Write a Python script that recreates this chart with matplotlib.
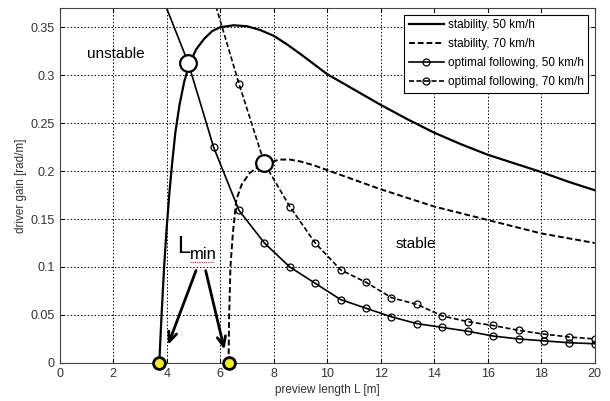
import numpy as np
import matplotlib.pyplot as plt

plt.rcParams['font.family'] = ['Liberation Sans', 'DejaVu Sans']

# stability boundaries
L_stab50 = [3.72, 3.80, 3.90, 4.00, 4.10, 4.20, 4.32, 4.47, 4.65, 4.85, 5.10, 5.40,
            5.70, 6.00, 6.50, 7.00, 7.50, 8.00, 8.50, 9.00, 10, 11, 12, 13, 14, 15,
            16, 17, 18, 19, 20]
g_stab50 = [0.0, 0.047, 0.100, 0.142, 0.178, 0.208, 0.240, 0.268, 0.293, 0.312,
            0.327, 0.338, 0.346, 0.350, 0.352, 0.351, 0.347, 0.341, 0.332, 0.322,
            0.301, 0.285, 0.269, 0.254, 0.240, 0.228, 0.217, 0.208, 0.199, 0.189,
            0.180]

L_stab70 = [6.31, 6.33, 6.38, 6.47, 6.60, 6.80, 7.10, 7.40, 7.75, 8.20, 8.60, 9.00,
            9.50, 10, 11, 12, 13, 14, 15, 16, 17, 18, 19, 20]
g_stab70 = [0.0, 0.047, 0.100, 0.135, 0.170, 0.186, 0.198, 0.204, 0.208, 0.212,
            0.212, 0.210, 0.206, 0.201, 0.191, 0.181, 0.172, 0.163, 0.156, 0.149,
            0.142, 0.135, 0.130, 0.125]

# optimal following gains
L_opt50 = [3.85, 4.80, 5.75, 6.70, 7.65, 8.60, 9.55, 10.50, 11.45, 12.40, 13.35,
           14.30, 15.25, 16.20, 17.15, 18.10, 19.05, 20.0]
g_opt50 = [0.380, 0.313, 0.225, 0.159, 0.125, 0.100, 0.083, 0.066, 0.057, 0.048,
           0.041, 0.037, 0.033, 0.028, 0.025, 0.023, 0.021, 0.020]

L_opt70 = [5.75, 6.70, 7.65, 8.60, 9.55, 10.50, 11.45, 12.40, 13.35, 14.30, 15.25,
           16.20, 17.15, 18.10, 19.05, 20.0]
g_opt70 = [0.380, 0.291, 0.208, 0.163, 0.125, 0.097, 0.084, 0.068, 0.061, 0.049,
           0.043, 0.039, 0.034, 0.030, 0.027, 0.025]

fig = plt.figure(figsize=(6.10, 4.01), dpi=100)
ax = fig.add_axes([0.098, 0.095, 0.877, 0.885])

ax.plot(L_stab50, g_stab50, '-', color='k', lw=1.6, label='stability, 50 km/h')
ax.plot(L_stab70, g_stab70, '--', color='k', lw=1.4, dashes=(3, 1.5),
        label='stability, 70 km/h')
ax.plot(L_opt50, g_opt50, '-', color='k', lw=1.2, marker='o', ms=5,
        mfc='none', mec='k', mew=0.9, label='optimal following, 50 km/h')
ax.plot(L_opt70, g_opt70, '--', color='k', lw=1.2, dashes=(3, 1.5), marker='o',
        ms=5, mfc='none', mec='k', mew=0.9, label='optimal following, 70 km/h')

# intersection circles
ax.plot([L_opt50[1], L_opt70[2]], [g_opt50[1], g_opt70[2]], 'o', ms=12,
        mfc='white', mec='k', mew=1.6, zorder=5)
# L_min points
ax.plot([L_stab50[0], L_stab70[0]], [g_stab50[0], g_stab70[0]], 'o', ms=8.5,
        mfc='#f5f000', mec='k', mew=2, zorder=6, clip_on=False)

ax.text(4.38, 0.115, 'L', fontsize=17, ha='left', va='baseline')
ax.text(4.86, 0.108, 'min', fontsize=12, ha='left', va='baseline')
ax.plot([4.88, 5.74], [0.1055, 0.1055], color='red', lw=0.8, ls=(0, (1, 1)))
ax.annotate('', xy=(4.01, 0.016), xytext=(5.13, 0.099),
            arrowprops=dict(arrowstyle='->,head_length=0.7,head_width=0.3', lw=2, color='k'))
ax.annotate('', xy=(6.18, 0.011), xytext=(5.43, 0.099),
            arrowprops=dict(arrowstyle='->,head_length=0.7,head_width=0.3', lw=2, color='k'))

ax.text(2.1, 0.322, 'unstable', fontsize=11, ha='center', va='center')
ax.text(13.3, 0.124, 'stable', fontsize=11, ha='center', va='center')

ax.set_xlim(0, 20)
ax.set_ylim(0, 0.37)
ax.set_xticks(np.arange(0, 21, 2))
ax.set_yticks([0, 0.05, 0.1, 0.15, 0.2, 0.25, 0.3, 0.35])
ax.set_yticklabels(['0', '0.05', '0.1', '0.15', '0.2', '0.25', '0.3', '0.35'])
ax.tick_params(direction='in', top=True, right=True, labelsize=9,
               labelcolor='#333333', length=3)
ax.grid(True, color='k', ls=(0, (1.5, 2)), lw=0.7)
for s in ax.spines.values():
    s.set_color('#444444')
    s.set_linewidth(0.8)

ax.set_xlabel('preview length L [m]', fontsize=8.5, color='#333333', labelpad=3)
ax.set_ylabel('driver gain [rad/m]', fontsize=8.5, color='#333333', labelpad=3)

leg = ax.legend(loc='upper right', fontsize=8.5, frameon=True, fancybox=False,
                framealpha=1, edgecolor='k', handlelength=3, handletextpad=0.3,
                labelspacing=0.6, borderpad=0.4, borderaxespad=0.55)
leg.get_frame().set_linewidth(0.8)

fig.savefig('out.png', dpi=100)
